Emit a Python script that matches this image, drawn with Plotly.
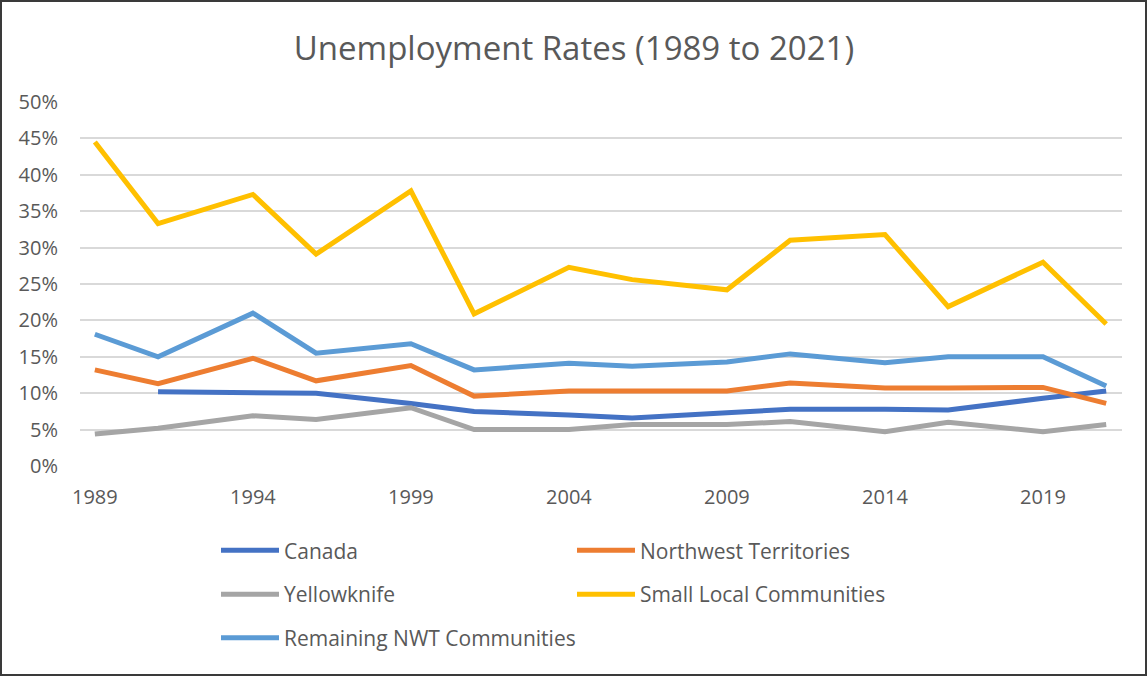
import plotly.graph_objects as go

years = [1989, 1991, 1994, 1996, 1999, 2001, 2004, 2006, 2009, 2011, 2014, 2016, 2019, 2021]
canada = [None, 10.2, 10.1, 10.0, 8.6, 7.5, 7.0, 6.6, 7.3, 7.8, 7.8, 7.7, 9.3, 10.3]
nwt = [13.2, 11.3, 14.8, 11.7, 13.8, 9.6, 10.3, 10.3, 10.3, 11.4, 10.7, 10.7, 10.8, 8.6]
yellowknife = [4.4, 5.2, 6.9, 6.4, 8.0, 5.0, 5.0, 5.7, 5.7, 6.1, 4.7, 6.0, 4.7, 5.7]
small_local = [44.5, 33.3, 37.3, 29.1, 37.8, 20.9, 27.3, 25.6, 24.2, 31.0, 31.8, 21.9, 28.0, 19.5]
remaining = [18.1, 15.0, 21.0, 15.5, 16.8, 13.2, 14.1, 13.7, 14.3, 15.4, 14.2, 15.0, 15.0, 11.0]

series_names = ["Canada", "Northwest Territories", "Yellowknife",
                "Small Local Communities", "Remaining NWT Communities"]
series_values = [canada, nwt, yellowknife, small_local, remaining]
colors = ["#4472C4", "#ED7D31", "#A5A5A5", "#FFC000", "#5B9BD5"]
x_tick_vals = [1989, 1994, 1999, 2004, 2009, 2014, 2019]
y_tick_vals = [0, 5, 10, 15, 20, 25, 30, 35, 40, 45, 50]
y_tick_text = ["0%", "5%", "10%", "15%", "20%", "25%", "30%", "35%", "40%", "45%", "50%"]

W, H = 1148, 677
L, R, T, B = 80, 26, 102, 211
FONT = "Open Sans"
TXT = "#595959"

# legend anchor positions (px, container)
leg_pos = [(216, 550.7), (572, 550.7), (216, 594.5), (572, 594.5), (216, 638)]
leg_keys = ["legend", "legend2", "legend3", "legend4", "legend5"]

fig = go.Figure()
for name, vals, col, lk in zip(series_names, series_values, colors, leg_keys):
    fig.add_trace(go.Scatter(
        x=years, y=vals, name=name, mode="lines",
        line=dict(color=col, width=5),
        legend=lk, connectgaps=False,
        hovertemplate="%{x}: %{y:.1f}%<extra>" + name + "</extra>",
    ))

layout_legends = {}
for lk, (px, py) in zip(leg_keys, leg_pos):
    layout_legends[lk] = dict(
        xref="container", yref="container",
        x=px / W, y=1 - py / H, xanchor="left", yanchor="middle",
        font=dict(family=FONT, size=21, color=TXT),
        itemwidth=58, bgcolor="rgba(0,0,0,0)", borderwidth=0,
    )

pw = W - L - R
ph = H - T - B
fig.update_layout(
    width=W, height=H,
    margin=dict(l=L, r=R, t=T, b=B, autoexpand=False),
    paper_bgcolor="white", plot_bgcolor="white",
    title=dict(text="Unemployment Rates (1989 to 2021)",
               font=dict(family=FONT, size=33, color=TXT),
               x=0.5, xanchor="center", xref="container",
               y=1 - 48 / H, yanchor="middle", yref="container"),
    showlegend=True,
    xaxis=dict(range=[1988.53, 2021.5], tickmode="array", tickvals=x_tick_vals,
               ticktext=[str(v) for v in x_tick_vals], automargin=False,
               showgrid=False, zeroline=False, showline=False, tickangle=0,
               ticks="", ticklabelstandoff=17,
               tickfont=dict(family=FONT, size=20, color=TXT)),
    yaxis=dict(range=[0, 50], tickmode="array", tickvals=y_tick_vals,
               ticktext=y_tick_text, automargin=False,
               showgrid=True, gridcolor="#D9D9D9", gridwidth=1.5,
               zeroline=False, showline=False, ticks="", ticklabelstandoff=21,
               tickfont=dict(family=FONT, size=20, color=TXT)),
    shapes=[dict(type="rect", xref="paper", yref="paper",
                 x0=(1 - L) / pw, x1=(W - 2 - L) / pw,
                 y0=((H - B) - 675) / ph, y1=((H - B) - 1) / ph,
                 line=dict(color="#3a3a3a", width=2), fillcolor="rgba(0,0,0,0)",
                 layer="above")],
    **layout_legends,
)

fig.write_html("out.html")
